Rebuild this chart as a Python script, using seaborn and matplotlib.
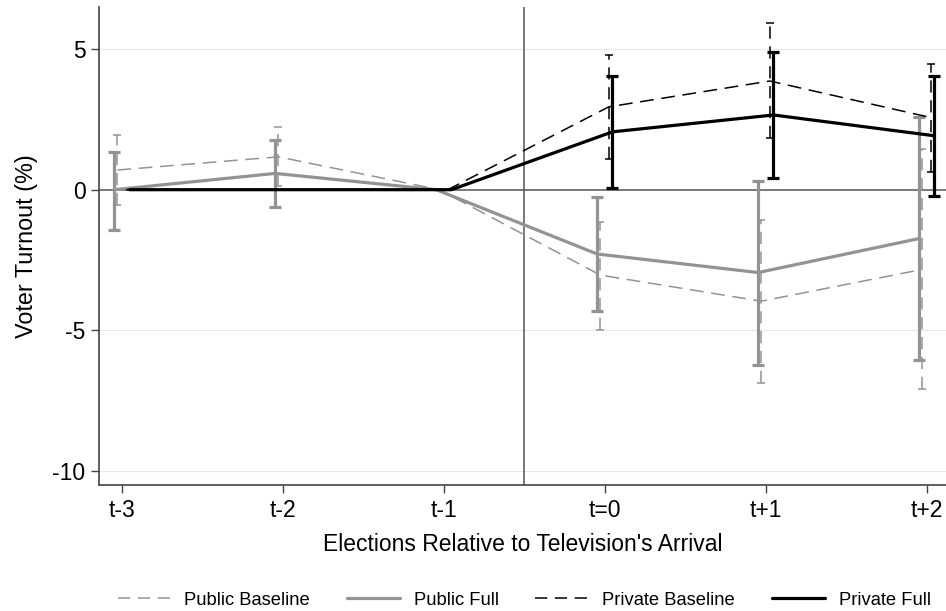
import numpy as np
import pandas as pd
import matplotlib
matplotlib.use("Agg")
import matplotlib.pyplot as plt
import seaborn as sns
from matplotlib.lines import Line2D

# ---- data ----
periods = ["t-3", "t-2", "t-1", "t=0", "t+1", "t+2"]
rel_time = [-3, -2, -1, 0, 1, 2]

public_baseline = [0.70, 1.17, 0.0, -3.04, -3.97, -2.84]
public_baseline_lo = [-0.55, 0.12, np.nan, -4.98, -6.87, -7.09]
public_baseline_hi = [1.94, 2.24, np.nan, -1.14, -1.08, 1.45]

public_full = [0.0, 0.58, 0.0, -2.29, -2.95, -1.74]
public_full_lo = [-1.44, -0.61, np.nan, -4.31, -6.25, -6.05]
public_full_hi = [1.35, 1.77, np.nan, -0.25, 0.31, 2.60]

private_baseline = [0.0, 0.0, 0.0, 2.95, 3.87, 2.57]
private_baseline_lo = [np.nan, np.nan, np.nan, 1.08, 1.85, 0.64]
private_baseline_hi = [np.nan, np.nan, np.nan, 4.80, 5.95, 4.47]

private_full = [0.0, 0.0, 0.0, 2.06, 2.66, 1.92]
private_full_lo = [np.nan, np.nan, np.nan, 0.05, 0.42, -0.22]
private_full_hi = [np.nan, np.nan, np.nan, 4.06, 4.91, 4.06]

y_ticks = [-10, -5, 0, 5]
legend_labels = ["Public Baseline", "Public Full", "Private Baseline", "Private Full"]

# ---- style ----
sns.set_theme(style="white")
plt.rcParams["font.family"] = ["Liberation Sans", "DejaVu Sans"]
plt.rcParams["axes.unicode_minus"] = False
plt.rcParams["text.color"] = "black"
plt.rcParams["axes.labelcolor"] = "black"
plt.rcParams["xtick.color"] = "black"
plt.rcParams["ytick.color"] = "black"

GRAY = "#939393"
BLACK = "#000000"
DASH = (0, (8, 5))

fig = plt.figure(figsize=(9.46, 6.11), dpi=100)
ax = fig.add_axes([0.105, 0.206, 0.895, 0.7823])

series = [
    (legend_labels[0], public_baseline, public_baseline_lo, public_baseline_hi, GRAY, "--", 1.1, -0.028, 3.0, 1.1, 2),
    (legend_labels[1], public_full, public_full_lo, public_full_hi, GRAY, "-", 2.3, -0.047, 4.5, 2.3, 3),
    (legend_labels[2], private_baseline, private_baseline_lo, private_baseline_hi, BLACK, "--", 1.1, 0.025, 3.0, 1.1, 4),
    (legend_labels[3], private_full, private_full_lo, private_full_hi, BLACK, "-", 2.3, 0.048, 4.5, 2.3, 5),
]

x = np.array(rel_time, dtype=float)
for name, vals, lo, hi, col, ls, lw, off, cap, capw, z in series:
    xs = x + off
    df = pd.DataFrame({"x": xs, "y": vals})
    sns.lineplot(data=df, x="x", y="y", ax=ax, color=col, linewidth=lw,
                 linestyle=ls, zorder=z, legend=False)
    if ls == "--":
        ax.get_lines()[-1].set_dashes((9, 5))
    v = np.array(vals); l = np.array(lo); h = np.array(hi)
    m = ~np.isnan(l)
    eb = ax.errorbar(xs[m], v[m], yerr=[v[m] - l[m], h[m] - v[m]], fmt="none",
                     ecolor=col, elinewidth=lw, capsize=cap, capthick=capw, zorder=z)
    if ls == "--":
        for lc in eb[2]:
            lc.set_linestyle(DASH)

ax.axhline(0, color="#555555", linewidth=1.1, zorder=1)
ax.axvline(-0.5, color="#555555", linewidth=1.1, zorder=1)
for yv in [-10, -5, 5]:
    ax.axhline(yv, color="#e6e6e6", linewidth=0.8, zorder=0)

ax.set_xlim(-3.14, 2.12)
ax.set_ylim(-10.52, 6.5)
ax.set_xticks(rel_time)
ax.set_xticklabels(periods)
ax.set_yticks(y_ticks)
ax.set_yticklabels([str(t) for t in y_ticks])

ax.set_xlabel("Elections Relative to Television's Arrival", fontsize=16.5, labelpad=8)
ax.set_ylabel("Voter Turnout (%)", fontsize=16.8, labelpad=10)
ax.tick_params(axis="both", labelsize=16.5, length=6, width=1.0, color="#444444",
               direction="out", pad=4, bottom=True, left=True)
for s in ["top", "right"]:
    ax.spines[s].set_visible(False)
for s in ["left", "bottom"]:
    ax.spines[s].set_color("#444444")
    ax.spines[s].set_linewidth(1.2)

leg_handles = [
    Line2D([], [], color=GRAY, linestyle=DASH, linewidth=1.1),
    Line2D([], [], color=GRAY, linestyle="-", linewidth=2.3),
    Line2D([], [], color=BLACK, linestyle=DASH, linewidth=1.1),
    Line2D([], [], color=BLACK, linestyle="-", linewidth=2.3),
]
fig.legend(leg_handles, legend_labels,
           loc="lower center", bbox_to_anchor=(0.554, -0.023), ncol=4, frameon=False,
           fontsize=13.2, handlelength=2.9, columnspacing=2.0, handletextpad=0.75)

fig.savefig("out.png", dpi=100)
